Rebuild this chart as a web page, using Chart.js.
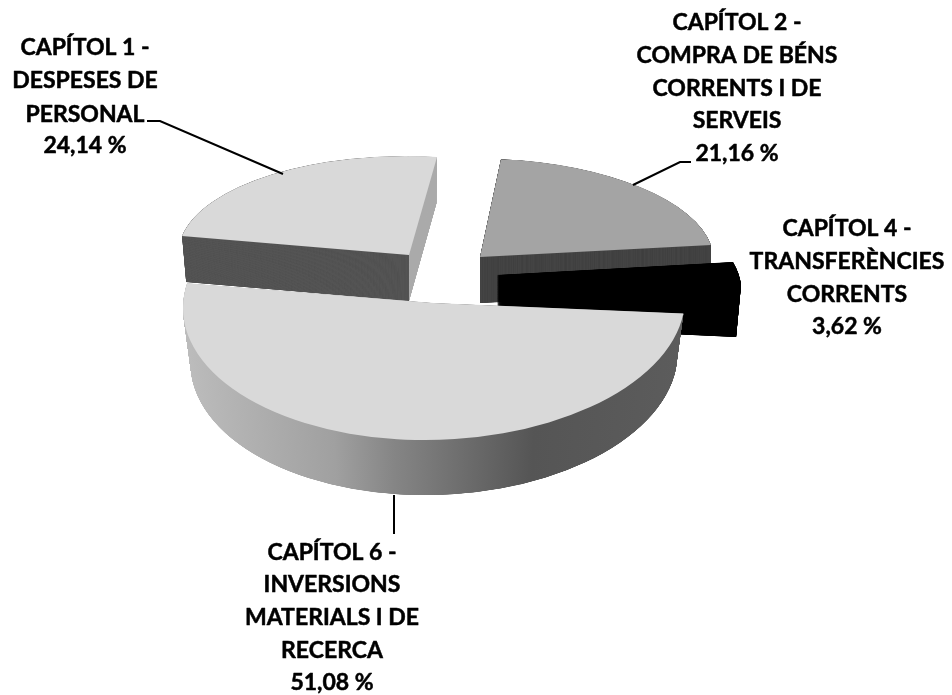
<!DOCTYPE html>
<html>
<head>
<meta charset="utf-8">
<style>html,body{margin:0;padding:0;background:#fff}canvas{display:block}</style>
<script src="https://cdn.jsdelivr.net/npm/chart.js@4"></script>
</head>
<body>
<canvas id="c" width="952" height="695"></canvas>
<script>
const categories = ["CAPÍTOL 1 - DESPESES DE PERSONAL","CAPÍTOL 2 - COMPRA DE BÉNS CORRENTS I DE SERVEIS","CAPÍTOL 4 - TRANSFERÈNCIES CORRENTS","CAPÍTOL 6 - INVERSIONS MATERIALS I DE RECERCA"];
const values = [24.14, 21.16, 3.62, 51.08];
const valueLabels = ["24,14 %","21,16 %","3,62 %","51,08 %"];
const labelLines = [
  ["CAPÍTOL 1 -","DESPESES DE","PERSONAL"],
  ["CAPÍTOL 2 -","COMPRA DE BÉNS","CORRENTS I DE","SERVEIS"],
  ["CAPÍTOL 4 -","TRANSFERÈNCIES","CORRENTS"],
  ["CAPÍTOL 6 -","INVERSIONS","MATERIALS I DE","RECERCA"]
];
const topColors = ["#d9d9d9","#a4a4a4","#000000","#d9d9d9"];
const startRotation = -79.6;

// Presentation: how each slice sits on the page (oblique projection)
const shapes = [
  {fit:[[409,255],[182,236],[437,157]], depth:46, taper:0.018, wall:"#555555", wallRight:"#adadad"},
  {fit:[[480,257],[501,159],[711,245]], depth:46, taper:0, wall:"#444444"},
  {fit:[[497,275],[733,262],[741,286]], depth:51, taper:0.02, wall:"#000000"},
  {c:[434,303], rx:251, ry:137, k:-5, depth:55, taper:0.03, gradient:[[0,"#bcbcbc"],[0.3,"#a0a0a0"],[0.42,"#858585"],[0.7,"#555555"],[1,"#5c5c5c"]]}
];
const labelPlacement = [
  {x:85,  y:[55,88,122,153]},
  {x:737, y:[30,63,96,128,161]},
  {x:847, y:[236,269,302,334]},
  {x:332, y:[560,592,625,658,690]}
];
const leaders = [
  [[147,121],[160,121],[283,174]],
  [[691,162],[680,162],[633,185]],
  [[394,495],[394,534]]
];

function matrixFor(shape, arc){
  const R = arc.outerRadius;
  if (shape.fit){
    const [p,a,b] = shape.fit;
    const c1=Math.cos(arc.startAngle)*R, s1=Math.sin(arc.startAngle)*R;
    const c2=Math.cos(arc.endAngle)*R,   s2=Math.sin(arc.endAngle)*R;
    const det=c1*s2-c2*s1;
    const ax=a[0]-p[0], ay=a[1]-p[1], bx=b[0]-p[0], by=b[1]-p[1];
    return {m:[(ax*s2-bx*s1)/det,(ay*s2-by*s1)/det,(bx*c1-ax*c2)/det,(by*c1-ay*c2)/det], p};
  }
  return {m:[shape.rx/R,shape.k/R,0,shape.ry/R], p:shape.c};
}
function paintArc(ctx, arc, color, mat, dy, xScale){
  ctx.save();
  ctx.translate(mat.p[0], mat.p[1]+dy);
  ctx.scale(xScale,1);
  ctx.transform(mat.m[0],mat.m[1],mat.m[2],mat.m[3],0,0);
  ctx.translate(-arc.x,-arc.y);
  const original = arc.options;
  arc.options = Object.assign({}, original, {backgroundColor:color, borderWidth:0, borderColor:color, offset:0});
  arc.draw(ctx);
  arc.options = original;
  ctx.restore();
}
function paintWall(ctx, arc, color, mat, depth, taper){
  for (let d=depth; d>=0.1; d-=0.1) paintArc(ctx, arc, color, mat, d, 1-taper*d/depth);
}
const pie3d = {
  id:"pie3d",
  beforeDatasetsDraw(chart){
    const ctx = chart.ctx;
    const arcs = chart.getDatasetMeta(0).data;
    arcs.forEach((arc,i)=>{
      const s = shapes[i], mat = matrixFor(s, arc);
      if (s.gradient){
        const g = ctx.createLinearGradient(arc.x-arc.outerRadius,0,arc.x+arc.outerRadius,0);
        s.gradient.forEach(st=>g.addColorStop(st[0],st[1]));
        paintWall(ctx, arc, g, mat, s.depth, s.taper);
      } else if (s.wallRight){
        ctx.save(); ctx.beginPath(); ctx.rect(0,0,mat.p[0],chart.height); ctx.clip();
        paintWall(ctx, arc, s.wall, mat, s.depth, s.taper); ctx.restore();
        ctx.save(); ctx.beginPath(); ctx.rect(mat.p[0],0,chart.width,chart.height); ctx.clip();
        paintWall(ctx, arc, s.wallRight, mat, s.depth, s.taper); ctx.restore();
      } else {
        paintWall(ctx, arc, s.wall, mat, s.depth, s.taper);
      }
      paintArc(ctx, arc, topColors[i], mat, 0, 1);
    });
    return false;
  },
  afterDraw(chart){
    const ctx = chart.ctx;
    ctx.save();
    ctx.strokeStyle="#000"; ctx.lineWidth=2;
    leaders.forEach(l=>{ctx.beginPath();l.forEach((p,i)=>i?ctx.lineTo(p[0],p[1]):ctx.moveTo(p[0],p[1]));ctx.stroke();});
    ctx.fillStyle="#000"; ctx.textAlign="center"; ctx.textBaseline="alphabetic";
    ctx.font='bold 23px Lato';
    ctx.lineWidth=0.5; ctx.lineJoin="round";
    labelLines.forEach((lines,i)=>{
      const place=labelPlacement[i];
      lines.concat(valueLabels[i]).forEach((t,j)=>{ctx.fillText(t,place.x,place.y[j]);ctx.strokeText(t,place.x,place.y[j]);});
    });
    ctx.restore();
  }
};
new Chart(document.getElementById("c"),{
  type:"pie",
  data:{labels:categories,datasets:[{data:values,backgroundColor:topColors,borderWidth:0}]},
  options:{responsive:false,animation:false,rotation:startRotation,
    layout:{padding:0},
    plugins:{legend:{display:false},tooltip:{enabled:false},title:{display:false}}},
  plugins:[pie3d]
});
</script>
</body>
</html>
